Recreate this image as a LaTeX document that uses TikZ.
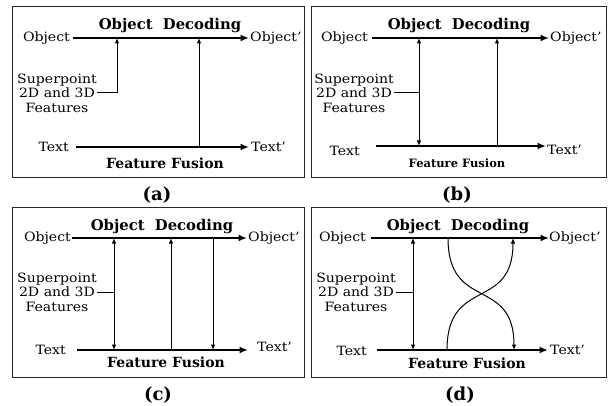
\documentclass[tikz,border=0pt]{standalone}
\usepackage{fontspec}
\setmainfont{DejaVu Serif}
\newfontfamily\rfont{DejaVu Serif}[FakeStretch=1.1]
\usetikzlibrary{arrows.meta}
\begin{document}
\begin{tikzpicture}[x=1pt,y=-1pt,
 lbl/.style={font=\rfont\fontsize{12.8}{14}\selectfont, inner sep=0pt},
 spl/.style={font=\rfont\fontsize{12.8}{14.5}\selectfont, inner sep=0pt, align=center},
 ttl/.style={font=\bfseries\fontsize{14.8}{16}\selectfont, inner sep=0pt, anchor=base},
 fus/.style={font=\bfseries\fontsize{14}{16}\selectfont, inner sep=0pt, anchor=base},
 fussmall/.style={font=\bfseries\fontsize{11.5}{13}\selectfont, inner sep=0pt, anchor=base},
 caplbl/.style={font=\bfseries\fontsize{18}{20}\selectfont, inner sep=0pt},
 panel/.style={draw=black!85, line width=1pt},
 mainline/.style={line width=2.6pt, -{Latex[length=8.5pt,width=7pt]}},
 thinarr/.style={line width=1pt, -{Latex[length=5.5pt,width=4.5pt]}},
 dblarr/.style={line width=1pt, {Latex[length=5.5pt,width=4.5pt]}-{Latex[length=5.5pt,width=4.5pt]}},
 stub/.style={line width=1pt},
]
\fill[white] (0,0) rectangle (609,406);
\useasboundingbox (0,0) rectangle (609,406);

% ---------------- panel (a) ----------------
\draw[panel] (12,7) rectangle (304,177);
\node[ttl] (ta) at (170,30) {Object\ \ Decoding};
\coordinate (oa1) at (73,38); \coordinate (oa2) at (249,38);
\node[lbl, anchor=east] (oa) at (70,38) {Object};
\node[lbl, anchor=west] (oap) at (250,38) {Object’};
\draw[mainline] (oa1) -- (oa2);
\coordinate (xa1) at (76,147); \coordinate (xa2) at (249,147);
\node[lbl, anchor=east] (xa) at (69,147) {Text};
\node[lbl, anchor=west] (xap) at (251,147) {Text’};
\draw[mainline] (xa1) -- (xa2);
\node[spl] (spa) at (57,93) {Superpoint\\2D and 3D\\Features};
\coordinate (a1t) at (117,38);
\draw[thinarr] (spa.east) -- (spa.east -| a1t) -- (a1t);
\coordinate (a2b) at (199,147); \coordinate (a2t) at (199,38);
\draw[thinarr] (a2b) -- (a2t);
\node[fus] (fa) at (165,168) {Feature Fusion};
\node[caplbl] (la) at (157,195) {(a)};

% ---------------- panel (b) ----------------
\draw[panel] (311,7) rectangle (606,177);
\node[ttl] (tb) at (459,30) {Object\ \ Decoding};
\coordinate (ob1) at (372,38); \coordinate (ob2) at (549,38);
\node[lbl, anchor=east] (ob) at (368,38) {Object};
\node[lbl, anchor=west] (obp) at (550,38) {Object’};
\draw[mainline] (ob1) -- (ob2);
\coordinate (xb1) at (376,146); \coordinate (xb2) at (546,146);
\node[lbl, anchor=east] (xb) at (360,151) {Text};
\node[lbl, anchor=west] (xbp) at (547,150) {Text’};
\draw[mainline] (xb1) -- (xb2);
\node[spl] (spb) at (354,93) {Superpoint\\2D and 3D\\Features};
\coordinate (b1t) at (419,38); \coordinate (b1b) at (419,146);
\draw[stub] (spb.east) -- (spb.east -| b1t);
\draw[dblarr] (b1t) -- (b1b);
\coordinate (b2b) at (497,146); \coordinate (b2t) at (497,38);
\draw[thinarr] (b2b) -- (b2t);
\node[fussmall] (fb) at (457,167) {Feature Fusion};
\node[caplbl] (lb) at (457,195) {(b)};

% ---------------- panel (c) ----------------
\draw[panel] (12,207) rectangle (304,377);
\node[ttl] (tc) at (162,230) {Object\ \ Decoding};
\coordinate (oc1) at (72,238); \coordinate (oc2) at (247,238);
\node[lbl, anchor=east] (oc) at (71,238) {Object};
\node[lbl, anchor=west] (ocp) at (248,238) {Object’};
\draw[mainline] (oc1) -- (oc2);
\coordinate (xc1) at (77,350); \coordinate (xc2) at (248,350);
\node[lbl, anchor=east] (xc) at (66,350) {Text};
\node[lbl, anchor=west] (xcp) at (257,347) {Text’};
\draw[mainline] (xc1) -- (xc2);
\node[spl] (spc) at (57,292) {Superpoint\\2D and 3D\\Features};
\coordinate (c1t) at (114,238); \coordinate (c1b) at (114,350);
\draw[stub] (spc.east) -- (spc.east -| c1t);
\draw[dblarr] (c1t) -- (c1b);
\coordinate (c2b) at (171,350); \coordinate (c2t) at (171,238);
\draw[thinarr] (c2b) -- (c2t);
\coordinate (c3t) at (213,238); \coordinate (c3b) at (213,350);
\draw[thinarr] (c3t) -- (c3b);
\node[fus] (fc) at (166,367) {Feature Fusion};
\node[caplbl] (lc) at (158,395) {(c)};

% ---------------- panel (d) ----------------
\draw[panel] (311,207) rectangle (606,377);
\node[ttl] (td) at (458,230) {Object\ \ Decoding};
\coordinate (od1) at (371,238); \coordinate (od2) at (549,238);
\node[lbl, anchor=east] (od) at (366,238) {Object};
\node[lbl, anchor=west] (odp) at (549,238) {Object’};
\draw[mainline] (od1) -- (od2);
\coordinate (xd1) at (377,350); \coordinate (xd2) at (548,350);
\node[lbl, anchor=east] (xd) at (367,351) {Text};
\node[lbl, anchor=west] (xdp) at (550,350) {Text’};
\draw[mainline] (xd1) -- (xd2);
\node[spl] (spd) at (356,292) {Superpoint\\2D and 3D\\Features};
\coordinate (d1t) at (413,238); \coordinate (d1b) at (413,350);
\draw[stub] (spd.east) -- (spd.east -| d1t);
\draw[dblarr] (d1t) -- (d1b);
\coordinate (ca1) at (448,238); \coordinate (ca2) at (514,350);
\draw[thinarr] (ca1) .. controls (448,312) and (514,276) .. (ca2);
\coordinate (cb1) at (447,350); \coordinate (cb2) at (513,238);
\draw[thinarr] (cb1) .. controls (447,276) and (513,312) .. (cb2);
\node[fus] (fd) at (467,368) {Feature Fusion};
\node[caplbl] (ld) at (460,395) {(d)};
\end{tikzpicture}
\end{document}
